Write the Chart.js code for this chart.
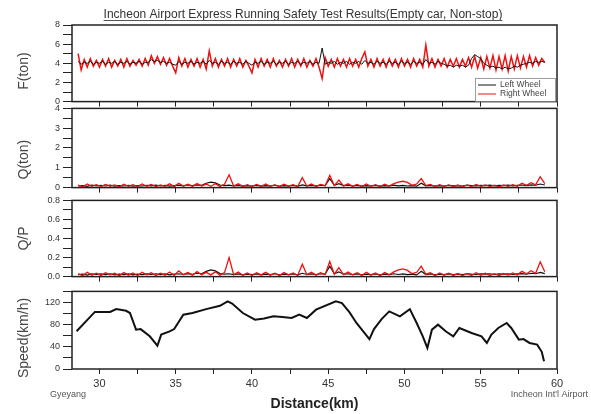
<!DOCTYPE html>
<html>
<head>
<meta charset="utf-8">
<title>Incheon Airport Express Running Safety Test</title>
<script src="https://cdn.jsdelivr.net/npm/chart.js@4.4.1/dist/chart.umd.min.js"></script>
<style>
  html, body { margin: 0; padding: 0; background: #fff; }
  #wrap { position: relative; width: 591px; height: 414px; overflow: hidden; }
  #wrap canvas { position: absolute; left: 0; }
</style>
</head>
<body>
<div id="wrap">
  <canvas id="chartF" width="591" height="110" style="top:0px"></canvas>
  <canvas id="chartQ" width="591" height="96" style="top:100px"></canvas>
  <canvas id="chartQP" width="591" height="93" style="top:192px"></canvas>
  <canvas id="chartSpeed" width="591" height="131" style="top:283px"></canvas>
</div>
<script>
// Textos
const TITLE = "Incheon Airport Express Running Safety Test Results(Empty car, Non-stop)"
const seriesNames = ["Left Wheel", "Right Wheel"]
const stationStart = "Gyeyang"
const stationEnd = "Incheon Int'l Airport"

// Distancia das amostras de P (km)
const fKm = [
  28.6, 28.8, 29.0, 29.2, 29.4, 29.6, 29.8, 30.0, 30.2, 30.4,
  30.6, 30.8, 31.0, 31.2, 31.4, 31.6, 31.8, 32.0, 32.2, 32.4,
  32.6, 32.8, 33.0, 33.2, 33.4, 33.6, 33.8, 34.0, 34.2, 34.4,
  34.6, 34.8, 35.0, 35.2, 35.4, 35.6, 35.8, 36.0, 36.2, 36.4,
  36.6, 36.8, 37.0, 37.2, 37.4, 37.6, 37.8, 38.0, 38.2, 38.4,
  38.6, 38.8, 39.0, 39.2, 39.4, 39.6, 39.8, 40.0, 40.2, 40.4,
  40.6, 40.8, 41.0, 41.2, 41.4, 41.6, 41.8, 42.0, 42.2, 42.4,
  42.6, 42.8, 43.0, 43.2, 43.4, 43.6, 43.8, 44.0, 44.2, 44.4,
  44.6, 44.8, 45.0, 45.2, 45.4, 45.6, 45.8, 46.0, 46.2, 46.4,
  46.6, 46.8, 47.0, 47.2, 47.4, 47.6, 47.8, 48.0, 48.2, 48.4,
  48.6, 48.8, 49.0, 49.2, 49.4, 49.6, 49.8, 50.0, 50.2, 50.4,
  50.6, 50.8, 51.0, 51.2, 51.4, 51.6, 51.8, 52.0, 52.2, 52.4,
  52.6, 52.8, 53.0, 53.2, 53.4, 53.6, 53.8, 54.0, 54.2, 54.4,
  54.6, 54.8, 55.0, 55.2, 55.4, 55.6, 55.8, 56.0, 56.2, 56.4,
  56.6, 56.8, 57.0, 57.2, 57.4, 57.6, 57.8, 58.0, 58.2, 58.4,
  58.6, 58.8, 59.0, 59.2
]

// P (ton) - roda direita / esquerda
const fRight = [
  5.0, 3.3, 4.4, 3.6, 4.5, 3.7, 4.3, 3.6, 4.4, 3.7,
  4.5, 3.6, 4.3, 3.7, 4.4, 3.6, 4.5, 3.7, 4.3, 3.8,
  4.4, 3.7, 4.5, 3.8, 4.8, 4.0, 4.7, 3.9, 4.6, 3.8,
  4.5, 3.7, 3.0, 4.6, 3.7, 4.5, 3.6, 4.4, 3.7, 4.5,
  3.6, 4.4, 3.4, 5.3, 3.7, 4.5, 3.6, 4.4, 3.7, 4.5,
  3.6, 4.4, 3.7, 4.5, 3.6, 4.3, 3.7, 3.0, 4.4, 3.6,
  4.5, 3.7, 4.4, 3.6, 4.5, 3.7, 4.3, 3.6, 4.4, 3.7,
  4.5, 3.6, 4.4, 3.7, 4.5, 3.6, 4.3, 3.7, 4.5, 3.6,
  2.4, 4.6, 3.7, 4.4, 3.6, 4.5, 3.7, 4.4, 3.6, 4.5,
  3.7, 4.4, 3.6, 4.5, 5.2, 3.7, 4.4, 3.6, 4.5, 3.7,
  4.4, 3.6, 4.5, 3.7, 4.4, 3.6, 4.5, 3.7, 4.4, 3.6,
  4.5, 3.7, 4.4, 3.6, 5.9, 3.7, 4.5, 3.6, 4.4, 3.7,
  4.5, 3.6, 4.4, 3.7, 4.5, 3.6, 4.4, 3.7, 4.6, 3.6,
  4.7, 3.5, 4.6, 3.4, 4.7, 3.5, 4.8, 3.3, 4.7, 3.4,
  4.8, 3.2, 4.7, 3.4, 4.8, 3.5, 4.7, 3.6, 4.8, 3.7,
  4.6, 3.8, 4.5, 4.1
]
const fLeft = [
  4.2, 3.9, 4.1, 4.0, 4.2, 3.9, 4.1, 4.0, 4.2, 3.9,
  4.1, 4.0, 4.2, 3.9, 4.1, 4.0, 4.2, 3.9, 4.1, 4.0,
  4.2, 3.9, 4.1, 4.1, 4.4, 4.2, 4.3, 4.1, 4.2, 4.0,
  4.1, 3.9, 3.8, 4.2, 3.9, 4.1, 4.0, 4.2, 3.9, 4.1,
  4.0, 4.2, 3.9, 4.3, 4.0, 4.1, 3.9, 4.2, 4.0, 4.1,
  3.9, 4.2, 4.0, 4.1, 3.9, 4.2, 4.0, 3.8, 4.1, 4.0,
  4.2, 3.9, 4.1, 4.0, 4.2, 3.9, 4.1, 4.0, 4.2, 3.9,
  4.1, 4.0, 4.2, 3.9, 4.1, 4.0, 4.2, 3.9, 4.1, 4.0,
  5.6, 3.9, 4.1, 4.0, 4.2, 3.9, 4.1, 4.0, 4.2, 3.9,
  4.1, 4.0, 4.2, 3.9, 4.3, 4.0, 4.1, 3.9, 4.2, 4.0,
  4.1, 3.9, 4.2, 4.0, 4.1, 3.9, 4.2, 4.0, 4.1, 3.9,
  4.2, 4.0, 4.1, 3.9, 4.4, 4.0, 4.1, 3.9, 4.2, 4.0,
  3.9, 3.7, 3.8, 3.6, 3.8, 3.7, 3.8, 3.6, 3.8, 4.5,
  4.9, 4.7, 4.5, 4.0, 3.8, 3.6, 3.7, 3.5, 3.6, 3.4,
  3.6, 3.4, 3.5, 3.7, 3.6, 3.8, 3.9, 4.0, 4.1, 4.0,
  4.2, 4.1, 4.2, 4.1
]

// Distancia das amostras de Q e Q/P (km)
const qKm = [
  28.6, 28.9, 29.2, 29.5, 29.8,
  30.1, 30.4, 30.7, 31.0, 31.3, 31.6, 31.9,
  32.2, 32.5, 32.8, 33.1, 33.4, 33.7,
  34.0, 34.3, 34.6, 34.9, 35.2, 35.5, 35.8,
  36.1, 36.4, 36.7, 37.0, 37.3, 37.6, 37.9,
  38.2, 38.5, 38.8, 39.1, 39.4, 39.7,
  40.0, 40.3, 40.6, 40.9, 41.2, 41.5, 41.8,
  42.1, 42.4, 42.7, 43.0, 43.3, 43.6, 43.9,
  44.2, 44.5, 44.8, 45.1, 45.4, 45.7,
  46.0, 46.3, 46.6, 46.9, 47.2, 47.5, 47.8,
  48.1, 48.4, 48.7, 49.0, 49.3, 49.6, 49.9,
  50.2, 50.5, 50.8, 51.1, 51.4, 51.7,
  52.0, 52.3, 52.6, 52.9, 53.2, 53.5, 53.8,
  54.1, 54.4, 54.7, 55.0, 55.3, 55.6, 55.9,
  56.2, 56.5, 56.8, 57.1, 57.4, 57.7,
  58.0, 58.3, 58.6, 58.9, 59.2
]

// Q (ton)
const qRight = [
  0.12, 0.04, 0.18, 0.06, 0.15,
  0.05, 0.16, 0.07, 0.14, 0.04, 0.17, 0.06,
  0.15, 0.05, 0.18, 0.07, 0.16, 0.05,
  0.14, 0.06, 0.19, 0.05, 0.22, 0.08, 0.17,
  0.06, 0.21, 0.08, 0.18, 0.07, 0.2, 0.06,
  0.17, 0.65, 0.08, 0.19, 0.06, 0.15,
  0.05, 0.16, 0.07, 0.18, 0.06, 0.14, 0.05,
  0.17, 0.07, 0.15, 0.05, 0.5, 0.08, 0.18,
  0.06, 0.16, 0.09, 0.62, 0.1, 0.38,
  0.08, 0.19, 0.07, 0.16, 0.05, 0.18, 0.06,
  0.15, 0.05, 0.17, 0.08, 0.2, 0.28, 0.32,
  0.26, 0.12, 0.18, 0.45, 0.1, 0.16,
  0.05, 0.15, 0.06, 0.14, 0.05, 0.13, 0.04,
  0.12, 0.05, 0.16, 0.06, 0.14, 0.05, 0.12,
  0.04, 0.13, 0.06, 0.15, 0.07, 0.22,
  0.12, 0.25, 0.14, 0.55, 0.2
]
const qLeft = [
  0.08, 0.1, 0.06, 0.12, 0.09,
  0.11, 0.08, 0.12, 0.07, 0.1, 0.08, 0.11,
  0.07, 0.1, 0.08, 0.11, 0.09, 0.12,
  0.08, 0.11, 0.07, 0.1, 0.12, 0.09, 0.13,
  0.1, 0.14, 0.12, 0.22, 0.28, 0.24, 0.13,
  0.1, 0.12, 0.08, 0.11, 0.07, 0.1,
  0.08, 0.11, 0.07, 0.1, 0.08, 0.12, 0.07,
  0.1, 0.08, 0.11, 0.07, 0.14, 0.09, 0.11,
  0.08, 0.12, 0.1, 0.45, 0.12, 0.2,
  0.1, 0.12, 0.08, 0.11, 0.07, 0.1, 0.08,
  0.11, 0.07, 0.1, 0.08, 0.12, 0.09, 0.11,
  0.08, 0.1, 0.07, 0.22, 0.09, 0.11,
  0.07, 0.1, 0.08, 0.11, 0.09, 0.1, 0.08,
  0.12, 0.1, 0.09, 0.11, 0.1, 0.12, 0.09,
  0.11, 0.1, 0.12, 0.09, 0.11, 0.13,
  0.1, 0.14, 0.12, 0.18, 0.13
]

// Q/P
const qpRight = [
  0.03, 0.01, 0.045, 0.015, 0.035,
  0.012, 0.04, 0.018, 0.035, 0.01, 0.042, 0.015,
  0.038, 0.012, 0.045, 0.018, 0.04, 0.012,
  0.035, 0.015, 0.048, 0.012, 0.06, 0.02, 0.042,
  0.015, 0.052, 0.02, 0.045, 0.018, 0.05, 0.015,
  0.042, 0.2, 0.02, 0.048, 0.015, 0.038,
  0.012, 0.04, 0.018, 0.045, 0.015, 0.035, 0.012,
  0.042, 0.018, 0.038, 0.012, 0.13, 0.02, 0.045,
  0.015, 0.04, 0.022, 0.16, 0.025, 0.095,
  0.02, 0.048, 0.018, 0.04, 0.012, 0.045, 0.015,
  0.038, 0.012, 0.042, 0.02, 0.05, 0.07, 0.08,
  0.065, 0.03, 0.045, 0.11, 0.025, 0.04,
  0.012, 0.038, 0.015, 0.035, 0.012, 0.032, 0.01,
  0.03, 0.012, 0.04, 0.015, 0.035, 0.012, 0.03,
  0.01, 0.032, 0.015, 0.038, 0.018, 0.055,
  0.03, 0.062, 0.035, 0.155, 0.05
]
const qpLeft = [
  0.02, 0.025, 0.015, 0.03, 0.022,
  0.028, 0.02, 0.03, 0.018, 0.025, 0.02, 0.028,
  0.018, 0.025, 0.02, 0.028, 0.022, 0.03,
  0.02, 0.028, 0.018, 0.025, 0.03, 0.022, 0.032,
  0.025, 0.035, 0.03, 0.055, 0.07, 0.06, 0.032,
  0.025, 0.03, 0.02, 0.028, 0.018, 0.025,
  0.02, 0.028, 0.018, 0.025, 0.02, 0.03, 0.018,
  0.025, 0.02, 0.028, 0.018, 0.035, 0.022, 0.028,
  0.02, 0.03, 0.025, 0.11, 0.03, 0.05,
  0.025, 0.03, 0.02, 0.028, 0.018, 0.025, 0.02,
  0.028, 0.018, 0.025, 0.02, 0.03, 0.022, 0.028,
  0.02, 0.025, 0.018, 0.055, 0.022, 0.028,
  0.018, 0.025, 0.02, 0.028, 0.022, 0.025, 0.02,
  0.03, 0.025, 0.022, 0.028, 0.025, 0.03, 0.022,
  0.028, 0.025, 0.03, 0.022, 0.028, 0.032,
  0.025, 0.035, 0.03, 0.045, 0.032
]

// Velocidade (km/h)
const speedKm = [28.5, 29.7, 30.7, 31.1, 31.75, 32.0, 32.4, 32.7, 33.3, 33.8, 34.05, 34.6, 34.9, 35.5, 36.1, 37.0, 37.9, 38.4, 38.7, 39.4, 40.2, 40.8, 41.4, 42.0, 42.6, 43.1, 43.6, 44.2, 45.5, 45.9, 46.4, 46.85, 47.7, 48.0, 48.5, 49.0, 49.7, 50.35, 50.8, 51.2, 51.5, 51.8, 52.2, 52.7, 53.2, 53.6, 54.4, 55.05, 55.4, 55.7, 56.15, 56.7, 57.0, 57.5, 57.8, 58.2, 58.7, 59.0, 59.15]
const speedKmh = [68, 103, 103, 108, 105, 101, 71, 72, 59, 42, 62, 68, 72, 98, 101, 108, 114, 122, 118, 101, 89, 91, 95, 94, 92, 98, 92, 107, 122, 119, 102, 83, 54, 72, 90, 104, 95, 108, 83, 59, 38, 71, 80, 68, 59, 74, 65, 59, 47, 62, 74, 83, 74, 53, 54, 47, 44, 31, 14]

const FONT = "'Liberation Sans', Arial, sans-serif"
const RED = "#ee1111"
const BLACK = "#111111"
Chart.defaults.font.family = FONT

function toPoints(xs, ys) {
  return xs.map((x, i) => ({ x: x, y: ys[i] }))
}

function lineSet(label, xs, ys, color, width) {
  return {
    label: label,
    data: toPoints(xs, ys),
    borderColor: color,
    borderWidth: width,
    pointRadius: 0,
    tension: 0,
  }
}

// Moldura em volta da area do grafico
const frameBox = {
  id: "frameBox",
  afterDatasetsDraw(chart) {
    const { ctx, chartArea: a } = chart
    ctx.save()
    ctx.strokeStyle = "#222"
    ctx.lineWidth = 1.5
    ctx.strokeRect(a.left, a.top, a.right - a.left, a.bottom - a.top)
    ctx.restore()
  },
}

// Titulo sublinhado no topo
const topTitle = {
  id: "topTitle",
  afterDraw(chart) {
    const ctx = chart.ctx
    ctx.save()
    ctx.font = "12px " + FONT
    ctx.fillStyle = "#333"
    ctx.textAlign = "center"
    ctx.textBaseline = "alphabetic"
    ctx.fillText(TITLE, 303, 18)
    const w = ctx.measureText(TITLE).width
    ctx.strokeStyle = "#555"
    ctx.lineWidth = 1
    ctx.beginPath()
    ctx.moveTo(303 - w / 2, 20.5)
    ctx.lineTo(303 + w / 2, 20.5)
    ctx.stroke()
    ctx.restore()
  },
}

// Legenda pequena no canto inferior direito
const wheelLegend = {
  id: "wheelLegend",
  afterDraw(chart) {
    const ctx = chart.ctx
    const colors = [BLACK, RED]
    ctx.save()
    ctx.fillStyle = "#fff"
    ctx.fillRect(475, 78, 80, 23)
    ctx.strokeStyle = "#888"
    ctx.lineWidth = 0.8
    ctx.strokeRect(475.5, 78.5, 80, 23)
    ctx.font = "8.5px " + FONT
    ctx.textBaseline = "middle"
    seriesNames.forEach((name, i) => {
      const y = 85 + i * 9
      ctx.strokeStyle = colors[i]
      ctx.lineWidth = 1
      ctx.beginPath()
      ctx.moveTo(478, y)
      ctx.lineTo(496, y)
      ctx.stroke()
      ctx.fillStyle = "#444"
      ctx.fillText(name, 500, y)
    })
    ctx.restore()
  },
}

// Nomes das estacoes por baixo do eixo
const stationLabels = {
  id: "stationLabels",
  afterDraw(chart) {
    const ctx = chart.ctx
    ctx.save()
    ctx.font = "9px " + FONT
    ctx.fillStyle = "#555"
    ctx.textBaseline = "alphabetic"
    ctx.textAlign = "left"
    ctx.fillText(stationStart, 50, 114)
    ctx.textAlign = "right"
    ctx.fillText(stationEnd, 588, 114)
    ctx.restore()
  },
}

function panelOptions(p) {
  return {
    responsive: false,
    animation: false,
    layout: { padding: { top: p.padTop, right: 34, bottom: 0, left: 0 } },
    plugins: {
      legend: { display: false },
      tooltip: { enabled: false },
    },
    scales: {
      x: {
        type: "linear",
        min: 28.2,
        max: 60,
        afterFit: (scale) => {
          scale.height = p.xHeight
        },
        border: { display: false },
        grid: { drawOnChartArea: false, tickLength: 5, color: "#222", lineWidth: 1 },
        ticks: {
          display: p.showXLabels,
          stepSize: 2.5,
          includeBounds: false,
          autoSkip: false,
          maxRotation: 0,
          padding: 3,
          color: "#333",
          font: { size: 11 },
          callback: (v) => (v % 5 === 0 ? v : ""),
        },
        title: {
          display: !!p.xTitle,
          text: p.xTitle || "",
          color: "#222",
          font: { size: 14, weight: "bold" },
          padding: { top: 0, bottom: 1 },
        },
      },
      y: {
        min: p.yMin,
        max: p.yMax,
        afterFit: (scale) => {
          scale.width = 72
        },
        border: { display: false },
        grid: { drawOnChartArea: false, tickLength: 9, color: "#222", lineWidth: 1 },
        ticks: {
          stepSize: p.yStep,
          autoSkip: false,
          padding: 3,
          color: "#333",
          font: { size: 9 },
          callback: p.yLabel,
        },
        title: {
          display: true,
          text: p.yTitle,
          color: "#444",
          font: { size: 14 },
          padding: { top: 16, bottom: 0 },
        },
      },
    },
  }
}

// Painel P
new Chart(document.getElementById("chartF"), {
  type: "line",
  data: {
    datasets: [
      lineSet(seriesNames[0], fKm, fLeft, BLACK, 1),
      lineSet(seriesNames[1], fKm, fRight, RED, 1.5),
    ],
  },
  options: panelOptions({
    padTop: 25, xHeight: 8, showXLabels: false,
    yMin: 0, yMax: 8, yStep: 1, yTitle: "F(ton)    ",
    yLabel: (v) => (v % 2 === 0 ? v : ""),
  }),
  plugins: [frameBox, topTitle, wheelLegend],
})

// Painel Q
new Chart(document.getElementById("chartQ"), {
  type: "line",
  data: {
    datasets: [
      lineSet(seriesNames[1], qKm, qRight, RED, 1.3),
      lineSet(seriesNames[0], qKm, qLeft, BLACK, 1.2),
    ],
  },
  options: panelOptions({
    padTop: 8, xHeight: 8, showXLabels: false,
    yMin: 0, yMax: 4, yStep: 0.5, yTitle: "Q(ton)      ",
    yLabel: (v) => (Number.isInteger(v) ? v : ""),
  }),
  plugins: [frameBox],
})

// Painel Q/P
new Chart(document.getElementById("chartQP"), {
  type: "line",
  data: {
    datasets: [
      lineSet(seriesNames[1], qKm, qpRight, RED, 1.3),
      lineSet(seriesNames[0], qKm, qpLeft, BLACK, 1.2),
    ],
  },
  options: panelOptions({
    padTop: 8, xHeight: 8, showXLabels: false,
    yMin: 0, yMax: 0.8, yStep: 0.1, yTitle: "Q/P",
    yLabel: (v) => (Math.round(v * 10) % 2 === 0 ? v.toFixed(1) : ""),
  }),
  plugins: [frameBox],
})

// Painel velocidade
new Chart(document.getElementById("chartSpeed"), {
  type: "line",
  data: {
    datasets: [lineSet("Speed", speedKm, speedKmh, BLACK, 2)],
  },
  options: panelOptions({
    padTop: 8, xHeight: 45, showXLabels: true, xTitle: "Distance(km)",
    yMin: 0, yMax: 140, yStep: 20, yTitle: "Speed(km/h)    ",
    yLabel: (v) => (v % 40 === 0 ? v : ""),
  }),
  plugins: [frameBox, stationLabels],
})
</script>
</body>
</html>
